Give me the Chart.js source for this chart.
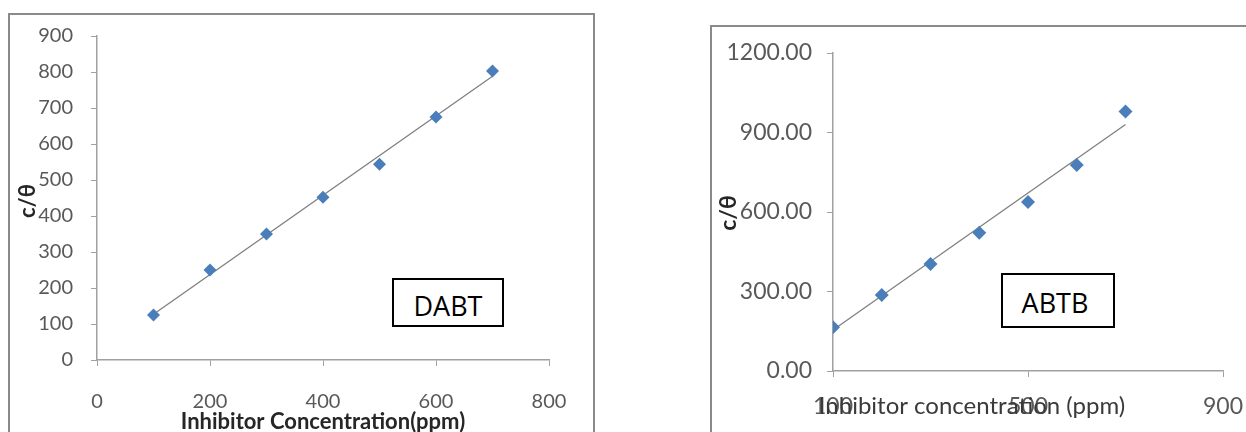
<!DOCTYPE html>
<html>
<head>
<meta charset="utf-8">
<script src="https://cdn.jsdelivr.net/npm/chart.js@4.4.1/dist/chart.umd.min.js"></script>
<style>
  body { margin: 0; background: #fff; width: 1246px; height: 432px; overflow: hidden; position: relative; }
  .frame { position: absolute; border: 2px solid #8a8a8a; border-bottom: none; }
  #frameA { left: 8px; top: 13px; width: 583px; height: 430px; }
  #frameB { left: 710px; top: 25px; width: 600px; height: 430px; border-right: none; }
  canvas { position: absolute; top: 0; }
  #chartA { left: 0; }
  #chartB { left: 620px; }
  .tag { position: absolute; border: 2px solid #000; background: #fff; font-family: "Open Sans", sans-serif;
         color: #000; display: flex; align-items: center; justify-content: center; box-sizing: border-box; }
  #tagA { left: 392px; top: 278px; width: 112px; height: 49px; font-size: 27px; padding-top: 6px; }
  #tagB { left: 1001px; top: 273px; width: 114px; height: 55px; font-size: 27px; padding-top: 3px; padding-right: 6px; }
</style>
</head>
<body>
<div class="frame" id="frameA"></div>
<div class="frame" id="frameB"></div>
<canvas id="chartA" width="620" height="432"></canvas>
<canvas id="chartB" width="680" height="432"></canvas>
<div class="tag" id="tagA">DABT</div>
<div class="tag" id="tagB">ABTB</div>
<script>
// inhibitor concentration (ppm)
const concX = [100, 200, 300, 400, 500, 600, 700];
// c/theta values
const dabtValues = [125, 250, 350, 452, 544, 675, 803];
const abtbValues = [165, 287, 404, 522, 638, 777, 979];
// linear trendline ends
const trendX = [100, 700];
const dabtTrend = [127, 788];
const abtbTrend = [155, 930];

const markerBlue = '#4a7ebb';
const axisGrey = '#a0a0a0';
const labelGrey = '#595959';

Chart.defaults.font.family = 'Lato, "Open Sans", sans-serif';
Chart.defaults.animation = false;

function points(xs, ys) {
  let out = [];
  for (let i = 0; i < xs.length; i++) out.push({x: xs[i], y: ys[i]});
  return out;
}

// axis titles drawn by hand so they sit where the Excel ones sit
const axisTitles = {
  id: 'axisTitles',
  afterDraw(chart, args, opts) {
    const ctx = chart.ctx;
    const area = chart.chartArea;
    ctx.save();
    ctx.fillStyle = '#262626';
    ctx.textAlign = 'center';
    ctx.textBaseline = 'middle';
    ctx.font = opts.yFont;
    ctx.translate(opts.yX, (area.top + area.bottom) / 2 + opts.yShift);
    ctx.rotate(-Math.PI / 2);
    ctx.fillText(opts.yText, 0, 0);
    ctx.restore();

    ctx.save();
    ctx.fillStyle = opts.xColor;
    ctx.textAlign = 'center';
    ctx.textBaseline = 'middle';
    ctx.font = opts.xFont;
    ctx.fillText(opts.xText, (area.left + area.right) / 2 + opts.xShift, opts.xY);
    ctx.restore();
  }
};

function makeChart(id, values, trend, cfg) {
  return new Chart(document.getElementById(id), {
    type: 'scatter',
    data: {
      datasets: [{
        label: 'c/θ',
        data: points(concX, values),
        pointStyle: 'rectRot',
        pointRadius: cfg.marker,
        backgroundColor: markerBlue,
        borderColor: markerBlue,
        borderWidth: 0,
        order: 1
      }, {
        label: 'trend',
        data: points(trendX, trend),
        showLine: true,
        pointRadius: 0,
        borderColor: '#7f7f7f',
        borderWidth: 1.3,
        order: 2
      }]
    },
    options: {
      responsive: false,
      devicePixelRatio: 1,
      layout: { autoPadding: false, padding: { left: 0, right: cfg.padRight, top: cfg.padTop, bottom: 0 } },
      plugins: {
        legend: { display: false },
        tooltip: { enabled: false },
        axisTitles: cfg.titles
      },
      scales: {
        x: {
          type: 'linear',
          min: cfg.xMin, max: cfg.xMax,
          afterFit: (s) => { s.height = cfg.xAxisHeight; s.paddingLeft = 0; s.paddingRight = 0; },
          border: { color: axisGrey, width: 1.5 },
          grid: { drawOnChartArea: false, color: axisGrey, tickLength: 6 },
          ticks: { stepSize: cfg.xStep, color: labelGrey, font: { size: cfg.tickSize }, padding: cfg.xPad, maxRotation: 0 }
        },
        y: {
          min: cfg.yMin, max: cfg.yMax,
          afterFit: (s) => { s.width = cfg.yAxisWidth; },
          border: { color: axisGrey, width: 1.5 },
          grid: { drawOnChartArea: false, color: axisGrey, tickLength: 6 },
          ticks: { stepSize: cfg.yStep, color: labelGrey, font: { size: cfg.tickSize }, padding: cfg.yPad,
                   callback: cfg.yFormat }
        }
      }
    },
    plugins: [axisTitles]
  });
}

makeChart('chartA', dabtValues, dabtTrend, {
  marker: 6.5, padRight: 71, padTop: 36, xAxisHeight: 72, yAxisWidth: 97,
  xMin: 0, xMax: 800, xStep: 200, yMin: 0, yMax: 900, yStep: 100,
  tickSize: 20, xPad: 24, yPad: 18,
  yFormat: (v) => v,
  titles: {
    yText: 'c/θ', yFont: 'bold 22px Lato, sans-serif', yX: 28, yShift: 3,
    xText: 'Inhibitor Concentration(ppm)', xFont: 'bold 22px Lato, sans-serif', xColor: '#262626',
    xShift: 0, xY: 422
  }
});

makeChart('chartB', abtbValues, abtbTrend, {
  marker: 7, padRight: 77, padTop: 53, xAxisHeight: 61, yAxisWidth: 213,
  xMin: 100, xMax: 900, xStep: 400, yMin: 0, yMax: 1200, yStep: 300,
  tickSize: 23, xPad: 16, yPad: 15,
  yFormat: (v) => v.toFixed(2),
  titles: {
    yText: 'c/θ', yFont: 'bold 23px Lato, sans-serif', yX: 109, yShift: 1,
    xText: 'Inhibitor concentration (ppm)', xFont: '24px Lato, sans-serif', xColor: '#3a3a3a',
    xShift: -56, xY: 406
  }
});
</script>
</body>
</html>
